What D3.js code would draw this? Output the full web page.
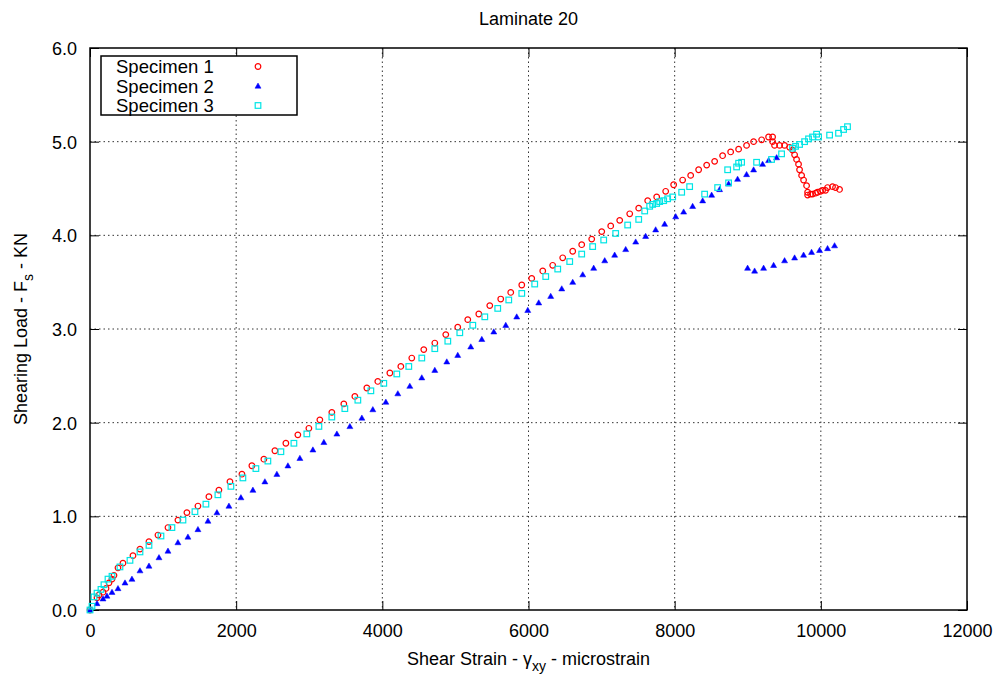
<!DOCTYPE html>
<html lang="en">
  <head>
    <meta charset="UTF-8" />
    <title>Laminate 20</title>
    <style>
      body { margin: 0; background: #fff; }
      svg text { font-family: "Liberation Sans", Arial, Helvetica, sans-serif; }
    </style>
  </head>
  <script src="https://d3js.org/d3.v7.min.js"></script>
  <body>
    <div id="my_dataviz"></div>
  </body>
  <script>
    // data (strain in microstrain, load in kN)
    const spec1 = [
      [0, 0], [96, 0.13], [123, 0.16], [178, 0.19], [219, 0.23], [260, 0.29],
      [301, 0.33], [328, 0.37], [383, 0.45], [451, 0.5], [588, 0.58], [684, 0.65],
      [807, 0.73], [930, 0.8], [1067, 0.88], [1203, 0.96], [1326, 1.04], [1477, 1.11],
      [1627, 1.21], [1764, 1.28], [1915, 1.37], [2079, 1.45], [2215, 1.54], [2379, 1.61],
      [2530, 1.7], [2680, 1.78], [2844, 1.87], [2995, 1.94], [3145, 2.03], [3309, 2.11],
      [3473, 2.2], [3624, 2.28], [3788, 2.37], [3938, 2.44], [4103, 2.53], [4253, 2.6],
      [4403, 2.69], [4567, 2.78], [4718, 2.85], [4868, 2.94], [5032, 3.02], [5169, 3.1],
      [5320, 3.16], [5470, 3.25], [5620, 3.32], [5757, 3.39], [5908, 3.47], [6044, 3.54],
      [6195, 3.62], [6331, 3.68], [6468, 3.76], [6605, 3.83], [6728, 3.9], [6865, 3.96],
      [7002, 4.04], [7125, 4.1], [7248, 4.16], [7385, 4.23], [7508, 4.29], [7631, 4.37],
      [7754, 4.41], [7877, 4.47], [7986, 4.54], [8109, 4.59], [8219, 4.64], [8328, 4.7],
      [8438, 4.75], [8547, 4.79], [8656, 4.85], [8766, 4.89], [8875, 4.92], [8984, 4.96],
      [9080, 5.0], [9190, 5.02], [9285, 5.05], [9340, 5.05], [9340, 5.0], [9367, 4.96],
      [9436, 4.96], [9504, 4.96], [9573, 4.94], [9613, 4.91], [9641, 4.86], [9668, 4.81],
      [9695, 4.76], [9709, 4.7], [9737, 4.64], [9764, 4.59], [9805, 4.53], [9819, 4.46],
      [9819, 4.43], [9860, 4.44], [9887, 4.44], [9928, 4.45], [9955, 4.46], [9996, 4.47],
      [10024, 4.48], [10065, 4.48], [10092, 4.51], [10160, 4.52], [10201, 4.51], [10256, 4.49]
    ];
    const spec2 = [
      [0, 0], [96, 0.07], [178, 0.12], [232, 0.15], [301, 0.19], [383, 0.23],
      [479, 0.29], [574, 0.33], [684, 0.42], [807, 0.47], [944, 0.56], [1067, 0.63],
      [1203, 0.72], [1340, 0.78], [1477, 0.86], [1614, 0.95], [1737, 1.04], [1901, 1.11],
      [2065, 1.2], [2229, 1.28], [2393, 1.37], [2557, 1.45], [2708, 1.54], [2872, 1.62],
      [3050, 1.71], [3200, 1.79], [3378, 1.88], [3556, 1.96], [3720, 2.05], [3870, 2.14],
      [4048, 2.22], [4212, 2.31], [4376, 2.39], [4540, 2.48], [4718, 2.56], [4882, 2.65],
      [5032, 2.72], [5210, 2.81], [5361, 2.89], [5525, 2.97], [5689, 3.04], [5839, 3.13],
      [5990, 3.2], [6140, 3.28], [6304, 3.35], [6455, 3.43], [6605, 3.5], [6742, 3.58],
      [6892, 3.65], [7043, 3.73], [7179, 3.79], [7330, 3.85], [7467, 3.93], [7603, 3.99],
      [7740, 4.06], [7863, 4.12], [8014, 4.2], [8123, 4.25], [8246, 4.31], [8383, 4.37],
      [8506, 4.43], [8615, 4.49], [8738, 4.55], [8861, 4.6], [8984, 4.65], [9080, 4.7],
      [9203, 4.76], [9285, 4.8], [9395, 4.83],
      [8998, 3.65], [9094, 3.62], [9217, 3.65], [9354, 3.68], [9504, 3.73], [9641, 3.76],
      [9764, 3.79], [9873, 3.82], [9983, 3.84], [10092, 3.86], [10188, 3.89]
    ];
    const spec3 = [
      [0, 0], [27, 0.04], [55, 0.14], [96, 0.18], [150, 0.22], [191, 0.27],
      [246, 0.33], [301, 0.36], [410, 0.46], [547, 0.53], [684, 0.62], [807, 0.69],
      [971, 0.79], [1121, 0.88], [1272, 0.96], [1436, 1.05], [1586, 1.13], [1750, 1.23],
      [1928, 1.32], [2092, 1.41], [2270, 1.51], [2434, 1.59], [2612, 1.69], [2790, 1.78],
      [2967, 1.88], [3132, 1.96], [3309, 2.06], [3487, 2.15], [3665, 2.24], [3843, 2.34],
      [4020, 2.42], [4198, 2.52], [4362, 2.6], [4540, 2.69], [4718, 2.79], [4896, 2.87],
      [5060, 2.96], [5238, 3.04], [5402, 3.13], [5579, 3.22], [5730, 3.31], [5908, 3.38],
      [6085, 3.48], [6236, 3.56], [6400, 3.64], [6564, 3.72], [6728, 3.8], [6878, 3.88],
      [7029, 3.95], [7193, 4.02], [7357, 4.11], [7508, 4.17], [7590, 4.26], [7658, 4.31],
      [7699, 4.33], [7754, 4.34], [7795, 4.36], [7850, 4.37], [7904, 4.39], [7973, 4.41],
      [8096, 4.46], [8205, 4.52], [8410, 4.44], [8588, 4.51], [8738, 4.56], [8725, 4.7],
      [8848, 4.73], [8875, 4.77], [8916, 4.78], [9121, 4.78], [9326, 4.81], [9463, 4.87],
      [9613, 4.93], [9654, 4.95], [9709, 4.97], [9778, 5.0], [9832, 5.03], [9887, 5.05],
      [9942, 5.08], [9969, 5.05], [10120, 5.07], [10242, 5.09], [10311, 5.13], [10365, 5.16]
    ];
    const seriesNames = ["Specimen 1", "Specimen 2", "Specimen 3"];
    const xTicks = [0, 2000, 4000, 6000, 8000, 10000, 12000];
    const yTicks = [0, 1, 2, 3, 4, 5, 6];

    const W = 1000, H = 677;
    const margin = { top: 48, right: 33, bottom: 67, left: 90 };
    const width = W - margin.left - margin.right,
      height = H - margin.top - margin.bottom;

    const svg = d3.select("#my_dataviz").append("svg")
      .attr("width", W).attr("height", H);
    const g = svg.append("g")
      .attr("transform", `translate(${margin.left},${margin.top})`);

    const x = d3.scaleLinear().domain([0, 12000]).range([0, width]);
    const y = d3.scaleLinear().domain([0, 6]).range([height, 0]);

    // dotted grid
    g.selectAll(".gx").data(xTicks.slice(1, -1)).join("line")
      .attr("x1", d => x(d)).attr("x2", d => x(d))
      .attr("y1", 0).attr("y2", height)
      .attr("stroke", "#333").attr("stroke-width", 1).attr("stroke-dasharray", "1.5,3");
    g.selectAll(".gy").data(yTicks.slice(1, -1)).join("line")
      .attr("y1", d => y(d)).attr("y2", d => y(d))
      .attr("x1", 0).attr("x2", width)
      .attr("stroke", "#333").attr("stroke-width", 1).attr("stroke-dasharray", "1.5,3");

    // axes with inward ticks, mirrored on top/right
    const fs = "18px";
    const xAxis = g.append("g").attr("transform", `translate(0,${height})`)
      .call(d3.axisBottom(x).tickValues(xTicks).tickSize(-9).tickPadding(14).tickFormat(d3.format("d")));
    const yAxis = g.append("g")
      .call(d3.axisLeft(y).tickValues(yTicks).tickSize(-9).tickPadding(13).tickFormat(d3.format(".1f")));
    g.append("g").call(d3.axisTop(x).tickValues(xTicks).tickSize(-9).tickFormat(""));
    g.append("g").attr("transform", `translate(${width},0)`)
      .call(d3.axisRight(y).tickValues(yTicks).tickSize(-9).tickFormat(""));
    g.selectAll(".domain").remove();
    g.selectAll(".tick line").attr("stroke", "#000").attr("stroke-width", 1);
    xAxis.selectAll("text").style("font-size", fs).attr("fill", "#000");
    yAxis.selectAll("text").style("font-size", fs).attr("fill", "#000").attr("dy", "0.36em");

    // frame
    g.append("rect").attr("width", width).attr("height", height)
      .attr("fill", "none").attr("stroke", "#000").attr("stroke-width", 1.5);

    // markers
    function drawCircle(sel) {
      sel.append("circle").attr("r", 2.8).attr("fill", "none")
        .attr("stroke", "#ff0000").attr("stroke-width", 1.2);
    }
    function drawTriangle(sel) {
      sel.append("path").attr("d", "M0,-3L3,2.2L-3,2.2Z").attr("fill", "#0000ff")
        .attr("stroke", "#0000ff").attr("stroke-width", 0.5);
    }
    function drawSquare(sel) {
      sel.append("rect").attr("x", -2.8).attr("y", -2.8).attr("width", 5.6).attr("height", 5.6)
        .attr("fill", "none").attr("stroke", "#00e5e5").attr("stroke-width", 1.2);
    }
    const markers = [drawCircle, drawTriangle, drawSquare];

    [spec1, spec2, spec3].forEach((data, i) => {
      g.append("g").selectAll("g").data(data).join("g")
        .attr("transform", d => `translate(${x(d[0])},${y(d[1])})`)
        .call(markers[i]);
    });

    // legend
    const lg = svg.append("g").attr("transform", "translate(101,56)");
    lg.append("rect").attr("width", 196).attr("height", 59)
      .attr("fill", "#fff").attr("stroke", "#000").attr("stroke-width", 1.5);
    seriesNames.forEach((name, i) => {
      lg.append("text").attr("x", 15).attr("y", 17 + i * 19.5)
        .style("font-size", "18.5px").text(name);
      lg.append("g").attr("transform", `translate(157,${10.5 + i * 19.5})`).call(markers[i]);
    });

    // title and axis labels
    svg.append("text").attr("x", margin.left + width / 2).attr("y", 25)
      .attr("text-anchor", "middle").style("font-size", fs).text("Laminate 20");

    const xl = svg.append("text").attr("x", margin.left + width / 2).attr("y", 665)
      .attr("text-anchor", "middle").style("font-size", fs);
    xl.append("tspan").text("Shear Strain - \u03b3");
    xl.append("tspan").attr("dy", 6).style("font-size", "14px").text("xy");
    xl.append("tspan").attr("dy", -6).text(" - microstrain");

    const yl = svg.append("text")
      .attr("transform", `translate(27,${margin.top + height / 2}) rotate(-90)`)
      .attr("text-anchor", "middle").style("font-size", fs);
    yl.append("tspan").text("Shearing Load - F");
    yl.append("tspan").attr("dy", 6).style("font-size", "14px").text("s");
    yl.append("tspan").attr("dy", -6).text(" - KN");
  </script>
</html>
